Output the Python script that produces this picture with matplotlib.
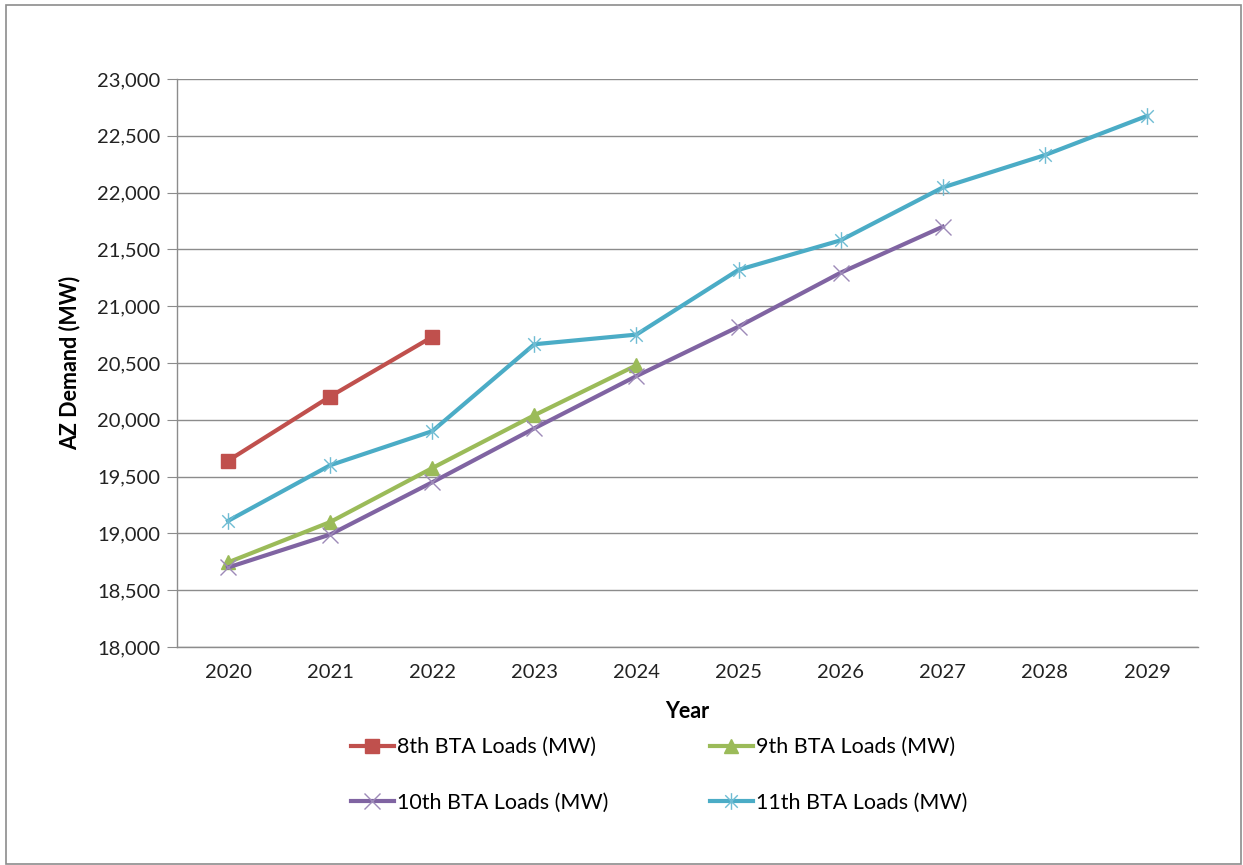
import matplotlib
matplotlib.use("Agg")
import matplotlib.pyplot as plt
from matplotlib.path import Path
from matplotlib.ticker import FuncFormatter, MultipleLocator
from matplotlib.patches import Rectangle

plt.rcParams['font.family'] = ['Lato', 'DejaVu Sans']

years = ["2020", "2021", "2022", "2023", "2024", "2025", "2026", "2027", "2028", "2029"]
bta8 = [19640, 20205, 20730]
bta9 = [18745, 19100, 19575, 20040, 20480]
bta10 = [18700, 18990, 19450, 19925, 20385, 20820, 21295, 21700]
bta11 = [19110, 19600, 19900, 20665, 20750, 21320, 21580, 22045, 22330, 22675]

c8, c9, c10, c11 = "#C0504D", "#9BBB59", "#8064A2", "#4BACC6"

star = Path([(0, -1), (0, 1), (-0.75, -0.75), (0.75, 0.75), (-0.75, 0.75), (0.75, -0.75)],
            [Path.MOVETO, Path.LINETO, Path.MOVETO, Path.LINETO, Path.MOVETO, Path.LINETO])

fig = plt.figure(figsize=(12.43, 8.65), dpi=100)
fig.patches.append(Rectangle((6 / 1243, 1 / 865), 1235 / 1243, 859 / 865, transform=fig.transFigure,
                             fill=False, edgecolor="#8C8C8C", linewidth=1.2))
ax = fig.add_axes([177 / 1243, (865 - 647) / 865, (1198 - 177) / 1243, (647 - 79) / 865])

x = list(range(len(years)))
h8, = ax.plot(x[:len(bta8)], bta8, color=c8, lw=3.0, marker='s', markersize=9.5, label="8th BTA Loads (MW)", zorder=3)
h9, = ax.plot(x[:len(bta9)], bta9, color=c9, lw=3.0, marker='^', markersize=10, label="9th BTA Loads (MW)", zorder=3)
h10, = ax.plot(x[:len(bta10)], bta10, color=c10, lw=3.0, marker='x', markersize=11, markeredgewidth=1.0,
               markeredgecolor="#9D8AB8", label="10th BTA Loads (MW)", zorder=3)
h11, = ax.plot(x[:len(bta11)], bta11, color=c11, lw=3.0, marker=star, markersize=12, markeredgewidth=1.0,
               markeredgecolor="#6FBCD3", label="11th BTA Loads (MW)", zorder=3)

ax.set_xlim(-0.5, len(years) - 0.5)
ax.set_ylim(18000, 23000)
ax.set_xticks(x)
ax.set_xticklabels(years)
ax.yaxis.set_major_locator(MultipleLocator(500))
ax.yaxis.set_major_formatter(FuncFormatter(lambda v, p: f"{int(v):,}"))
ax.grid(axis='y', color="#8C8C8C", linewidth=1.0)
ax.set_axisbelow(True)
for s in ["top", "right"]:
    ax.spines[s].set_visible(False)
for s in ["left", "bottom"]:
    ax.spines[s].set_color("#8C8C8C")
    ax.spines[s].set_linewidth(1.0)
ax.tick_params(axis='x', length=0, labelsize=14.5, pad=12, labelcolor="#222222")
ax.tick_params(axis='y', length=7, color="#8C8C8C", labelsize=14.5, pad=5, labelcolor="#222222")

ax.set_ylabel("AZ Demand (MW)", fontsize=15.5, fontweight='bold', labelpad=12)
ax.set_xlabel("Year", fontsize=15.5, fontweight='bold', labelpad=15)

handles = [h8, h10, h9, h11]
fig.legend(handles, [h.get_label() for h in handles], loc="center",
           bbox_to_anchor=(659 / 1243, 1 - 775 / 865), ncol=2, frameon=False,
           fontsize=15.5, columnspacing=4.7, handlelength=2.0, handletextpad=0.15,
           labelspacing=1.65)
fig.savefig("out.png", dpi=100)
